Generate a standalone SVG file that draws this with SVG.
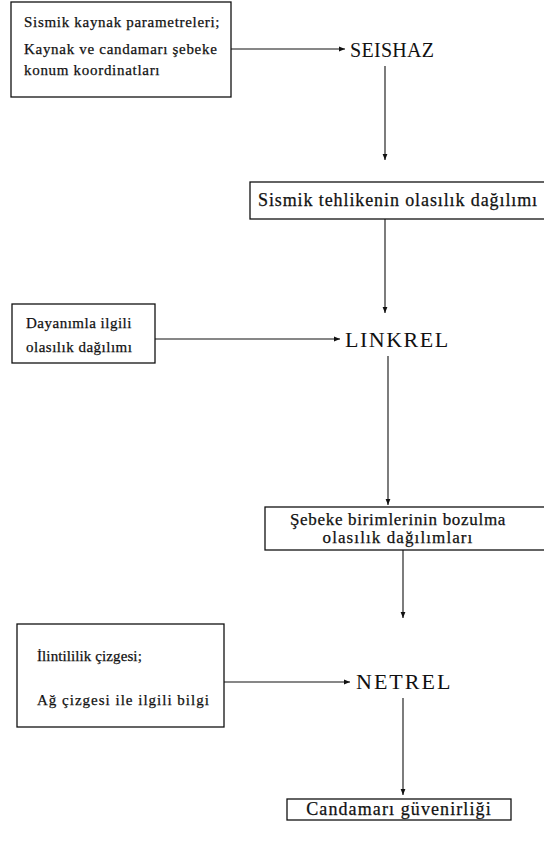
<svg xmlns="http://www.w3.org/2000/svg" width="544" height="842" viewBox="0 0 544 842">
<defs>
<marker id="ah" viewBox="0 0 10 10" refX="10" refY="5" markerWidth="6" markerHeight="6" orient="auto" markerUnits="userSpaceOnUse">
<path d="M0,1 L10,5 L0,9 Z" fill="#111"/>
</marker>
<style>
.box{fill:#fff;stroke:#111;stroke-width:1.3}
.t{font-family:"Liberation Serif","DejaVu Serif",serif;fill:#111;stroke:#111;stroke-width:0.25}
.s{font-size:15px;letter-spacing:0.7px}
.m{font-size:17px;letter-spacing:0.7px}
.big{font-size:20px;stroke-width:0}
.c{stroke:#111;stroke-width:1.1;fill:none;marker-end:url(#ah)}
</style>
</defs>
<rect width="544" height="842" fill="#fff"/>
<g id="connectors">
<line class="c" x1="231" y1="49" x2="345" y2="49"/>
<line class="c" x1="385" y1="66" x2="385" y2="160"/>
<line class="c" x1="385" y1="219" x2="385" y2="313"/>
<line class="c" x1="155" y1="339" x2="340" y2="339"/>
<line class="c" x1="388" y1="356" x2="388" y2="505"/>
<line class="c" x1="403" y1="550" x2="403" y2="618"/>
<line class="c" x1="224" y1="682" x2="350" y2="682"/>
<line class="c" x1="403" y1="698" x2="403" y2="795"/>
</g>
<g id="n1">
<rect class="box" x="11" y="2" width="220" height="95"/>
<text class="t s" x="24" y="27">Sismik kaynak parametreleri;</text>
<text class="t s" x="24" y="54">Kaynak ve candamarı şebeke</text>
<text class="t s" x="24" y="75">konum koordinatları</text>
</g>
<g id="seishaz">
<text class="t big" x="350" y="57" style="letter-spacing:0.3px">SEISHAZ</text>
</g>
<g id="n2">
<rect class="box" x="250" y="182" width="298" height="37"/>
<text class="t m" x="258" y="206" style="font-size:18px;letter-spacing:0.9px">Sismik tehlikenin olasılık dağılımı</text>
</g>
<g id="n3">
<rect class="box" x="12" y="304" width="143" height="59"/>
<text class="t s" x="26" y="328" style="letter-spacing:0.5px">Dayanımla ilgili</text>
<text class="t s" x="26" y="352" style="letter-spacing:0.5px">olasılık dağılımı</text>
</g>
<g id="linkrel">
<text class="t big" x="345" y="347" style="font-size:22px;letter-spacing:1.5px">LINKREL</text>
</g>
<g id="n4">
<rect class="box" x="265" y="507" width="283" height="43"/>
<text class="t m" x="398" y="525" text-anchor="middle">Şebeke birimlerinin bozulma</text>
<text class="t m" x="398" y="543" text-anchor="middle" style="letter-spacing:1.1px">olasılık dağılımları</text>
</g>
<g id="n5">
<rect class="box" x="17" y="624" width="207" height="103"/>
<text class="t s" x="37" y="661" style="letter-spacing:0.1px">İlintililik çizgesi;</text>
<text class="t s" x="37" y="705" style="letter-spacing:1px">Ağ çizgesi ile ilgili bilgi</text>
</g>
<g id="netrel">
<text class="t big" x="356" y="689" style="font-size:22px;letter-spacing:2px">NETREL</text>
</g>
<g id="n6">
<rect class="box" x="287" y="799" width="224" height="21"/>
<text class="t m" x="399" y="815" text-anchor="middle" style="font-size:18px;letter-spacing:1.1px">Candamarı güvenirliği</text>
</g>
</svg>
